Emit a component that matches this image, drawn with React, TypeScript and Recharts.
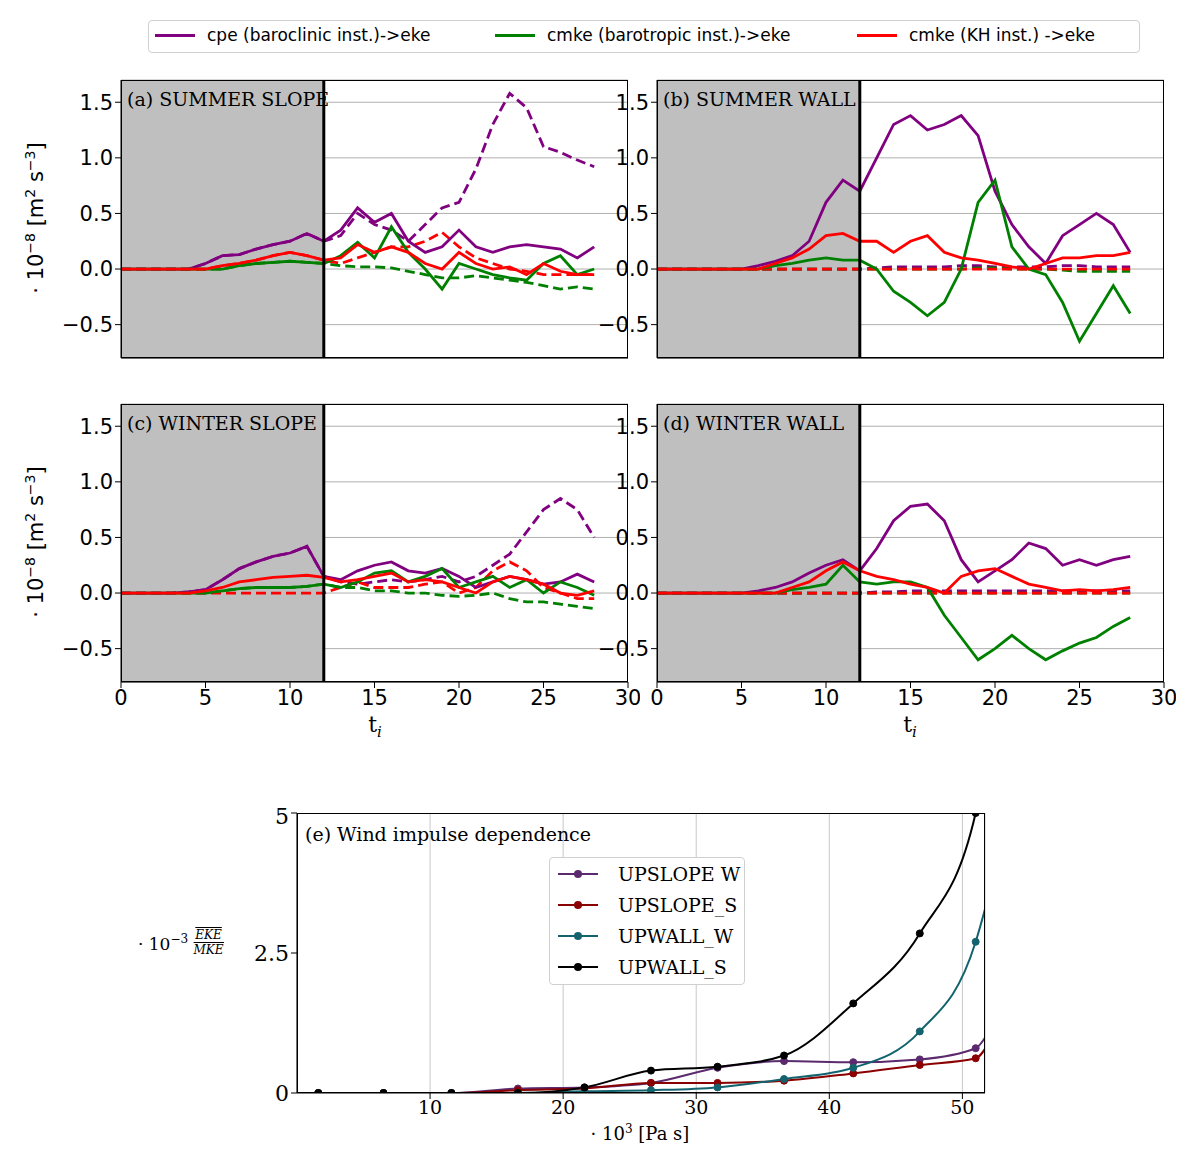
import React from "react"
import {
  CartesianGrid,
  Line,
  LineChart,
  ReferenceArea,
  ReferenceLine,
  XAxis,
  YAxis,
} from "recharts"

const T = [0, 1, 2, 3, 4, 5, 6, 7, 8, 9, 10, 11, 12, 13, 14, 15, 16, 17, 18, 19, 20, 21, 22, 23, 24, 25, 26, 27, 28]

// (a) summer slope
const aPs = [0, 0, 0, 0, 0, 0.05, 0.12, 0.13, 0.18, 0.22, 0.25, 0.32, 0.25, 0.35, 0.55, 0.42, 0.5, 0.25, 0.15, 0.2, 0.35, 0.2, 0.15, 0.2, 0.22, 0.2, 0.18, 0.1, 0.2]
const aPd = [0, 0, 0, 0, 0, 0.05, 0.12, 0.13, 0.18, 0.22, 0.25, 0.32, 0.25, 0.3, 0.5, 0.4, 0.35, 0.25, 0.4, 0.55, 0.6, 0.9, 1.3, 1.58, 1.45, 1.1, 1.05, 0.98, 0.92]
const aGs = [0, 0, 0, 0, 0, 0, 0, 0.03, 0.05, 0.06, 0.07, 0.06, 0.05, 0.12, 0.24, 0.1, 0.38, 0.15, 0, -0.18, 0.05, 0, -0.05, -0.08, -0.1, 0.05, 0.12, -0.05, 0]
const aGd = [0, 0, 0, 0, 0, 0, 0, 0.03, 0.05, 0.06, 0.07, 0.06, 0.05, 0.03, 0.02, 0.02, 0.01, -0.02, -0.05, -0.08, -0.08, -0.06, -0.08, -0.1, -0.12, -0.15, -0.18, -0.16, -0.18]
const aRs = [0, 0, 0, 0, 0, 0, 0.03, 0.05, 0.08, 0.12, 0.15, 0.12, 0.08, 0.1, 0.22, 0.15, 0.2, 0.15, 0.05, 0, 0.15, 0.05, 0, 0.02, -0.05, 0.05, -0.02, -0.05, -0.05]
const aRd = [0, 0, 0, 0, 0, 0, 0.03, 0.05, 0.08, 0.12, 0.15, 0.12, 0.08, 0.05, 0.1, 0.15, 0.2, 0.2, 0.25, 0.33, 0.2, 0.1, 0.05, 0, -0.02, -0.05, -0.05, -0.05, -0.05]

// (b) summer wall
const bPs = [0, 0, 0, 0, 0, 0, 0.03, 0.07, 0.12, 0.25, 0.6, 0.8, 0.7, 1.0, 1.3, 1.38, 1.25, 1.3, 1.38, 1.2, 0.7, 0.4, 0.2, 0.05, 0.3, 0.4, 0.5, 0.4, 0.15]
const bPd = [0, 0, 0, 0, 0, 0, 0, 0, 0, 0, 0, 0, 0, 0.01, 0.02, 0.02, 0.02, 0.02, 0.03, 0.03, 0.02, 0.02, 0.02, 0.02, 0.03, 0.03, 0.02, 0.02, 0.02]
const bGs = [0, 0, 0, 0, 0, 0, 0, 0.03, 0.05, 0.08, 0.1, 0.08, 0.08, 0, -0.2, -0.3, -0.42, -0.3, 0, 0.6, 0.8, 0.2, 0, -0.05, -0.3, -0.65, -0.4, -0.15, -0.4]
const bGd = [0, 0, 0, 0, 0, 0, 0, 0, 0, 0, 0, 0, 0, 0, 0, 0, 0, 0, 0, 0.01, 0.01, 0, 0, 0, -0.01, -0.02, -0.02, -0.02, -0.02]
const bRs = [0, 0, 0, 0, 0, 0, 0, 0.05, 0.1, 0.18, 0.3, 0.32, 0.25, 0.25, 0.15, 0.25, 0.3, 0.15, 0.1, 0.08, 0.05, 0.02, 0, 0.05, 0.1, 0.1, 0.12, 0.12, 0.15]
const bRd = [0, 0, 0, 0, 0, 0, 0, 0, 0, 0, 0, 0, 0, 0, 0, 0, 0, 0, 0, 0, 0, 0, 0, 0, 0, 0, 0, 0, 0]

// (c) winter slope
const cPs = [0, 0, 0, 0, 0.01, 0.03, 0.12, 0.22, 0.28, 0.33, 0.36, 0.42, 0.15, 0.12, 0.2, 0.25, 0.28, 0.2, 0.18, 0.22, 0.15, 0.05, 0.1, 0.15, 0.12, 0.08, 0.1, 0.17, 0.1]
const cPd = [0, 0, 0, 0, 0.01, 0.03, 0.12, 0.22, 0.28, 0.33, 0.36, 0.42, 0.15, 0.1, 0.08, 0.1, 0.12, 0.1, 0.12, 0.15, 0.1, 0.15, 0.25, 0.35, 0.55, 0.75, 0.85, 0.75, 0.5]
const cGs = [0, 0, 0, 0, 0, 0, 0.02, 0.04, 0.05, 0.05, 0.05, 0.06, 0.08, 0.05, 0.1, 0.18, 0.2, 0.1, 0.15, 0.22, 0.05, 0.1, 0.15, 0.05, 0.12, 0, 0.1, 0.05, -0.02]
const cGd = [0, 0, 0, 0, 0, 0, 0.02, 0.04, 0.05, 0.05, 0.05, 0.06, 0.08, 0.05, 0.05, 0.02, 0.02, 0, 0, -0.02, -0.03, -0.02, 0, -0.05, -0.08, -0.08, -0.1, -0.12, -0.14]
const cRs = [0, 0, 0, 0, 0, 0.02, 0.05, 0.1, 0.12, 0.14, 0.15, 0.16, 0.14, 0.1, 0.12, 0.15, 0.18, 0.1, 0.12, 0.1, 0.05, 0, 0.1, 0.15, 0.12, 0.08, 0, -0.02, 0.02]
const cRd = [0, 0, 0, 0, 0, 0, 0, 0, 0, 0, 0, 0, 0, 0.05, 0.1, 0.05, 0.05, 0.05, 0.08, 0.1, 0, 0.05, 0.2, 0.28, 0.2, 0.05, 0, -0.05, -0.05]

// (d) winter wall
const dPs = [0, 0, 0, 0, 0, 0, 0.02, 0.05, 0.1, 0.18, 0.25, 0.3, 0.2, 0.4, 0.65, 0.78, 0.8, 0.65, 0.3, 0.1, 0.2, 0.3, 0.45, 0.4, 0.25, 0.3, 0.25, 0.3, 0.33]
const dPd = [0, 0, 0, 0, 0, 0, 0, 0, 0, 0, 0, 0, 0, 0.01, 0.01, 0.02, 0.02, 0.02, 0.02, 0.02, 0.02, 0.02, 0.02, 0.02, 0.02, 0.02, 0.02, 0.02, 0.02]
const dGs = [0, 0, 0, 0, 0, 0, 0, 0, 0.03, 0.05, 0.08, 0.25, 0.1, 0.08, 0.1, 0.1, 0.05, -0.2, -0.4, -0.6, -0.5, -0.38, -0.5, -0.6, -0.52, -0.45, -0.4, -0.3, -0.22]
const dGd = [0, 0, 0, 0, 0, 0, 0, 0, 0, 0, 0, 0, 0, 0, 0, 0, 0, 0, 0, 0, 0, 0, 0, 0, 0, 0, 0, 0, 0]
const dRs = [0, 0, 0, 0, 0, 0, 0, 0, 0.05, 0.1, 0.2, 0.28, 0.2, 0.15, 0.12, 0.08, 0.05, 0, 0.15, 0.2, 0.22, 0.15, 0.08, 0.05, 0.02, 0.03, 0.02, 0.03, 0.05]
const dRd = [0, 0, 0, 0, 0, 0, 0, 0, 0, 0, 0, 0, 0, 0, 0, 0, 0, 0, 0, 0, 0, 0, 0, 0, 0, 0, 0, 0, 0]

const xTicks = [0, 5, 10, 15, 20, 25, 30]
const yTicks = [-0.5, 0, 0.5, 1, 1.5]

// (e) wind impulse dependence
const impulse = [1.6, 6.5, 11.6, 16.6, 21.6, 26.6, 31.6, 36.6, 41.8, 46.8, 51, 52]
const upslopeW = [0, 0, 0, 0.08, 0.1, 0.18, 0.45, 0.57, 0.55, 0.6, 0.8, 1.1]
const upslopeS = [0, 0, 0, 0.05, 0.08, 0.18, 0.18, 0.22, 0.35, 0.5, 0.62, 0.9]
const upwallW = [0, 0, 0, 0, 0.03, 0.05, 0.1, 0.25, 0.45, 1.1, 2.7, 3.55]
const upwallS = [0, 0, 0, 0, 0.1, 0.4, 0.47, 0.67, 1.6, 2.85, 5.0, 6.2]

const PURPLE = "#800080"
const GREEN = "#008000"
const RED = "#ff0000"

const makeRows = (ps, pd, gs, gd, rs, rd) =>
  T.map((t, i) => ({ t, ps: ps[i], pd: pd[i], gs: gs[i], gd: gd[i], rs: rs[i], rd: rd[i] }))

const panels = [
  { title: "(a) SUMMER SLOPE", rows: makeRows(aPs, aPd, aGs, aGd, aRs, aRd), left: 121, top: 80, bottomAxis: false },
  { title: "(b) SUMMER WALL", rows: makeRows(bPs, bPd, bGs, bGd, bRs, bRd), left: 657, top: 80, bottomAxis: false },
  { title: "(c) WINTER SLOPE", rows: makeRows(cPs, cPd, cGs, cGd, cRs, cRd), left: 121, top: 404, bottomAxis: true },
  { title: "(d) WINTER WALL", rows: makeRows(dPs, dPd, dGs, dGd, dRs, dRd), left: 657, top: 404, bottomAxis: true },
]

const eRows = impulse.map((x, i) => ({
  x,
  uw: upslopeW[i],
  us: upslopeS[i],
  ww: upwallW[i],
  ws: upwallS[i],
}))

const PW = 507
const PH = 278
const sans = "DejaVu Sans, sans-serif"
const serif = "DejaVu Serif, serif"

function Panel({ p }) {
  const yW = 110
  return (
    <div style={{ position: "absolute", left: p.left - yW, top: p.top - 10 }}>
      <LineChart
        width={yW + PW + 12}
        height={PH + 10 + 40}
        data={p.rows}
        margin={{ top: 10, right: 12, left: 0, bottom: 0 }}
      >
        <ReferenceArea x1={0} x2={12} y1={-0.8} y2={1.7} fill="#bfbfbf" fillOpacity={1} stroke="none" />
        <CartesianGrid vertical={false} stroke="#b0b0b0" />
        <XAxis
          dataKey="t"
          type="number"
          domain={[0, 30]}
          ticks={xTicks}
          height={40}
          tick={p.bottomAxis ? { fontSize: 21, fill: "#000", fontFamily: sans } : false}
          tickLine={{ stroke: "#000" }}
          tickSize={6}
          axisLine={{ stroke: "#000" }}
        />
        <YAxis
          type="number"
          domain={[-0.8, 1.7]}
          ticks={yTicks}
          width={yW}
          tick={{ fontSize: 21, fill: "#000", fontFamily: sans }}
          tickFormatter={(v) => (v < 0 ? `\u2212${Math.abs(v).toFixed(1)}` : v.toFixed(1))}
          tickLine={{ stroke: "#000" }}
          tickSize={6}
          axisLine={{ stroke: "#000" }}
        />
        <Line dataKey="pd" stroke={PURPLE} strokeWidth={2.8} strokeDasharray="10 5" dot={false} isAnimationActive={false} />
        <Line dataKey="gd" stroke={GREEN} strokeWidth={2.8} strokeDasharray="10 5" dot={false} isAnimationActive={false} />
        <Line dataKey="rd" stroke={RED} strokeWidth={2.8} strokeDasharray="10 5" dot={false} isAnimationActive={false} />
        <Line dataKey="ps" stroke={PURPLE} strokeWidth={2.8} dot={false} isAnimationActive={false} />
        <Line dataKey="gs" stroke={GREEN} strokeWidth={2.8} dot={false} isAnimationActive={false} />
        <Line dataKey="rs" stroke={RED} strokeWidth={2.8} dot={false} isAnimationActive={false} />
        <ReferenceLine x={12} stroke="#000" strokeWidth={3} />
      </LineChart>
      <div
        style={{
          position: "absolute",
          left: yW,
          top: 10,
          width: PW,
          height: PH,
          border: "1px solid #000",
          boxSizing: "border-box",
          pointerEvents: "none",
        }}
      />
      <div style={{ position: "absolute", left: yW + 6, top: 18, fontFamily: serif, fontSize: 19 }}>{p.title}</div>
    </div>
  )
}

const pointDot = (color, n) => (props) => {
  const { cx, cy, index } = props
  if (index >= n - 1) return <g key={`d${index}`} />
  return <circle key={`d${index}`} cx={cx} cy={cy} r={3.5} fill={color} stroke={color} />
}

const eSeries = [
  { key: "uw", name: "UPSLOPE W", color: "#5b2a6e" },
  { key: "us", name: "UPSLOPE_S", color: "#8b0000" },
  { key: "ww", name: "UPWALL_W", color: "#13636f" },
  { key: "ws", name: "UPWALL_S", color: "#000000" },
]

const topLegend = [
  { name: "cpe (baroclinic inst.)->eke", color: PURPLE, x: 155 },
  { name: "cmke (barotropic inst.)->eke", color: GREEN, x: 495 },
  { name: "cmke (KH inst.) ->eke", color: RED, x: 857 },
]

export default function App() {
  return (
    <div style={{ position: "absolute", left: 0, top: 0, width: 1200, height: 1163, background: "#fff" }}>
      {/* top legend */}
      <div
        style={{
          position: "absolute",
          left: 148,
          top: 20,
          width: 992,
          height: 33,
          border: "1px solid #d0d0d0",
          borderRadius: 4,
          boxSizing: "border-box",
        }}
      />
      {topLegend.map((l) => (
        <div key={l.name} style={{ position: "absolute", left: l.x, top: 25, display: "flex", alignItems: "center" }}>
          <div style={{ width: 40, height: 3, background: l.color, marginRight: 12 }} />
          <span style={{ fontFamily: sans, fontSize: 17 }}>{l.name}</span>
        </div>
      ))}

      {panels.map((p) => (
        <Panel key={p.title} p={p} />
      ))}

      {/* y labels */}
      {[219, 543].map((cy) => (
        <div
          key={cy}
          style={{
            position: "absolute",
            left: 35 - 150,
            top: cy - 14,
            width: 300,
            textAlign: "center",
            transform: "rotate(-90deg)",
            fontFamily: sans,
            fontSize: 21,
            whiteSpace: "nowrap",
          }}
        >
          · 10<sup style={{ fontSize: 14 }}>−8</sup> [m<sup style={{ fontSize: 14 }}>2</sup> s<sup style={{ fontSize: 14 }}>−3</sup>]
        </div>
      ))}
      {[375, 910].map((cx) => (
        <div key={cx} style={{ position: "absolute", left: cx - 20, top: 712, width: 40, textAlign: "center", fontFamily: serif, fontSize: 22 }}>
          t<sub style={{ fontSize: 15, fontStyle: "italic" }}>i</sub>
        </div>
      ))}

      {/* panel e */}
      <div style={{ position: "absolute", left: 237, top: 803 }}>
        <LineChart width={763} height={325} data={eRows} margin={{ top: 10, right: 15, left: 0, bottom: 0 }}>
          <CartesianGrid horizontal={false} stroke="#c8c8c8" />
          <XAxis
            dataKey="x"
            type="number"
            domain={[0, 51.7]}
            ticks={[10, 20, 30, 40, 50]}
            allowDataOverflow
            height={35}
            tick={{ fontSize: 19, fill: "#000", fontFamily: serif }}
            tickLine={{ stroke: "#000" }}
            tickSize={6}
            axisLine={{ stroke: "#000" }}
          />
          <YAxis
            type="number"
            domain={[0, 5]}
            ticks={[0, 2.5, 5]}
            allowDataOverflow
            width={60}
            tick={{ fontSize: 22, fill: "#000", fontFamily: serif }}
            tickLine={{ stroke: "#000" }}
            tickSize={6}
            axisLine={{ stroke: "#000" }}
          />
          {eSeries.map((s) => (
            <Line
              key={s.key}
              dataKey={s.key}
              type="monotone"
              stroke={s.color}
              strokeWidth={2}
              dot={pointDot(s.color, impulse.length)}
              isAnimationActive={false}
            />
          ))}
        </LineChart>
        <div
          style={{
            position: "absolute",
            left: 60,
            top: 10,
            width: 688,
            height: 280,
            border: "1px solid #000",
            boxSizing: "border-box",
            pointerEvents: "none",
          }}
        />
        <div style={{ position: "absolute", left: 68, top: 20, fontFamily: serif, fontSize: 19 }}>
          (e) Wind impulse dependence
        </div>
        <div
          style={{
            position: "absolute",
            left: 312,
            top: 54,
            width: 196,
            height: 128,
            border: "1px solid #d0d0d0",
            borderRadius: 4,
            background: "#fff",
            boxSizing: "border-box",
          }}
        >
          {eSeries.map((s, i) => (
            <div key={s.key} style={{ position: "absolute", left: 8, top: 5 + i * 31, display: "flex", alignItems: "center" }}>
              <div style={{ position: "relative", width: 40, height: 2, background: s.color, marginRight: 20 }}>
                <div style={{ position: "absolute", left: 16, top: -3, width: 8, height: 8, borderRadius: 4, background: s.color }} />
              </div>
              <span style={{ fontFamily: serif, fontSize: 19 }}>{s.name}</span>
            </div>
          ))}
        </div>
      </div>
      <div style={{ position: "absolute", left: 138, top: 928, fontFamily: serif, fontSize: 17, display: "flex", alignItems: "center" }}>
        <span>· 10<sup style={{ fontSize: 12 }}>−3</sup>&nbsp;</span>
        <span style={{ display: "inline-flex", flexDirection: "column", alignItems: "center", fontSize: 12, fontStyle: "italic" }}>
          <span style={{ textDecoration: "overline" }}>EKE</span>
          <span style={{ borderTop: "1px solid #000", textDecoration: "overline" }}>MKE</span>
        </span>
      </div>
      <div style={{ position: "absolute", left: 540, top: 1122, width: 200, textAlign: "center", fontFamily: serif, fontSize: 18 }}>
        · 10<sup style={{ fontSize: 12 }}>3</sup> [Pa s]
      </div>
    </div>
  )
}
